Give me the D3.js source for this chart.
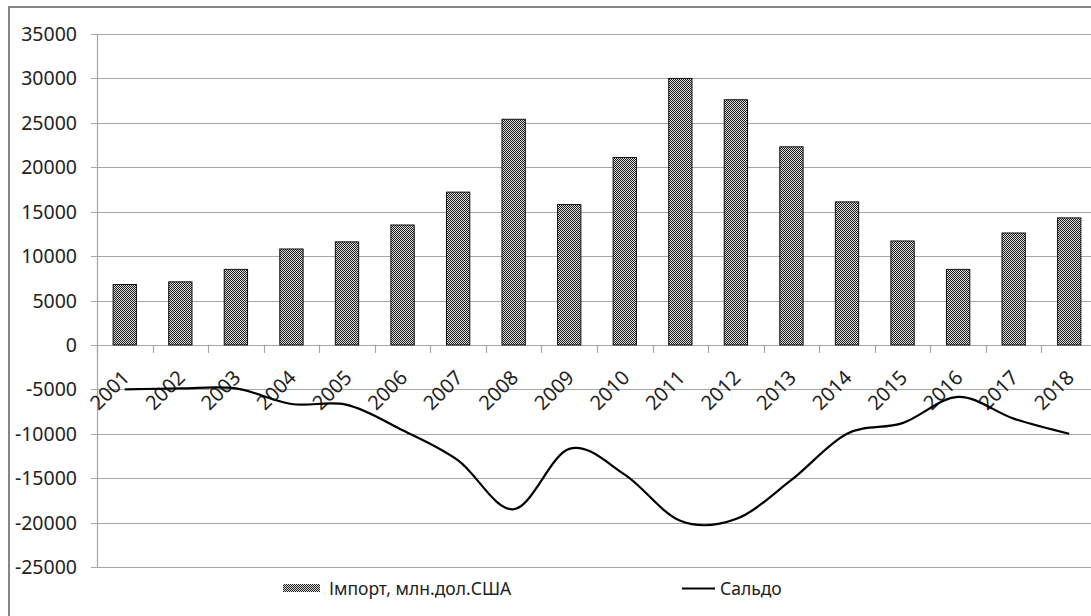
<!DOCTYPE html>
<html>
<head>
<meta charset="utf-8">
<script src="https://cdnjs.cloudflare.com/ajax/libs/d3/7.8.5/d3.min.js"></script>
<style>
  body { margin: 0; background: #fff; }
  svg text { font-family: "Noto Sans", sans-serif; fill: #222; }
</style>
</head>
<body>
<div id="chart"></div>
<script>
"use strict";

const years = ["2001", "2002", "2003", "2004", "2005", "2006", "2007", "2008", "2009",
    "2010", "2011", "2012", "2013", "2014", "2015", "2016", "2017", "2018"];
const importValues = [6800, 7100, 8500, 10800, 11600, 13500, 17200, 25400, 15800,
    21100, 30000, 27600, 22300, 16100, 11700, 8500, 12600, 14300];
const saldoValues = [-5000, -4900, -4900, -6650, -6750, -9600, -13000, -18500, -11700,
    -14600, -19800, -19600, -15200, -10000, -8800, -5850, -8300, -10000];
const yTicks = [35000, 30000, 25000, 20000, 15000, 10000, 5000, 0, -5000, -10000, -15000, -20000, -25000];
const legendLabels = ["Імпорт, млн.дол.США", "Сальдо"];

const width = 1091, height = 616;
const plot = { left: 97, right: 1097, top: 34, bottom: 567 };

let svg = d3.select("#chart").append("svg")
    .attr("width", width)
    .attr("height", height);

// checkered fill like the excel pattern
let defs = svg.append("defs");
let pat = defs.append("pattern")
    .attr("id", "checker")
    .attr("width", 2)
    .attr("height", 2)
    .attr("patternUnits", "userSpaceOnUse");
pat.append("rect").attr("width", 2).attr("height", 2).attr("fill", "#e0e0e0");
pat.append("rect").attr("width", 1).attr("height", 1).attr("fill", "#1a1a1a");
pat.append("rect").attr("x", 1).attr("y", 1).attr("width", 1).attr("height", 1).attr("fill", "#1a1a1a");

// outer chart border (cut off on right and bottom)
svg.append("rect")
    .attr("x", 9).attr("y", 7)
    .attr("width", 1110).attr("height", 640)
    .attr("fill", "none")
    .attr("stroke", "#868686")
    .attr("stroke-width", 2);

let x = d3.scaleBand()
    .domain(years)
    .range([plot.left, plot.right])
    .paddingInner(0)
    .paddingOuter(0);

let y = d3.scaleLinear()
    .domain([-25000, 35000])
    .range([plot.bottom, plot.top]);

// gridlines
svg.append("g")
    .selectAll("line")
    .data(yTicks)
    .enter().append("line")
    .attr("x1", plot.left - 6)
    .attr("x2", plot.right)
    .attr("y1", d => Math.round(y(d)) + 0.5)
    .attr("y2", d => Math.round(y(d)) + 0.5)
    .attr("stroke", "#a6a6a6")
    .attr("stroke-width", 1.2);

// value axis line
svg.append("line")
    .attr("x1", plot.left + 0.5).attr("x2", plot.left + 0.5)
    .attr("y1", y(35000)).attr("y2", y(-25000))
    .attr("stroke", "#a6a6a6")
    .attr("stroke-width", 1.2);

svg.append("g")
    .selectAll("text")
    .data(yTicks)
    .enter().append("text")
    .attr("x", 77)
    .attr("y", d => y(d))
    .attr("dy", "0.36em")
    .attr("text-anchor", "end")
    .style("font-size", "19.5px")
    .text(d => d);

// category ticks along the zero line
let tickPos = years.map(d => x(d)).concat([plot.right]);
svg.append("g")
    .selectAll("line")
    .data(tickPos)
    .enter().append("line")
    .attr("x1", d => Math.round(d) + 0.5)
    .attr("x2", d => Math.round(d) + 0.5)
    .attr("y1", y(0))
    .attr("y2", y(0) + 8)
    .attr("stroke", "#a6a6a6")
    .attr("stroke-width", 1.2);

// bars
let barW = x.bandwidth() * 0.42;
svg.append("g")
    .selectAll("rect")
    .data(importValues)
    .enter().append("rect")
    .attr("x", (d, i) => x(years[i]) + x.bandwidth() / 2 - barW / 2)
    .attr("y", d => y(d))
    .attr("width", barW)
    .attr("height", d => y(0) - y(d))
    .attr("fill", "url(#checker)")
    .attr("stroke", "#111")
    .attr("stroke-width", 1);

// rotated year labels
svg.append("g")
    .selectAll("text")
    .data(years)
    .enter().append("text")
    .attr("transform", d => "translate(" + (x(d) + x.bandwidth() / 2 + 6) + "," + (y(0) + 34) + ") rotate(-45)")
    .attr("text-anchor", "end")
    .style("font-size", "20px")
    .text(d => d);

// smoothed saldo line
let line = d3.line()
    .x((d, i) => x(years[i]) + x.bandwidth() / 2)
    .y(d => y(d))
    .curve(d3.curveCardinal.tension(0));

svg.append("path")
    .datum(saldoValues)
    .attr("d", line)
    .attr("fill", "none")
    .attr("stroke", "#000")
    .attr("stroke-width", 2.2);

// legend
let legend = svg.append("g");
legend.append("rect")
    .attr("x", 283).attr("y", 584)
    .attr("width", 37).attr("height", 8)
    .attr("fill", "url(#checker)");
legend.append("text")
    .attr("x", 329).attr("y", 595)
    .style("font-size", "17.5px")
    .text(legendLabels[0]);
legend.append("line")
    .attr("x1", 682).attr("x2", 715)
    .attr("y1", 588.5).attr("y2", 588.5)
    .attr("stroke", "#000")
    .attr("stroke-width", 2.2);
legend.append("text")
    .attr("x", 720).attr("y", 595)
    .style("font-size", "17.5px")
    .text(legendLabels[1]);
</script>
</body>
</html>
